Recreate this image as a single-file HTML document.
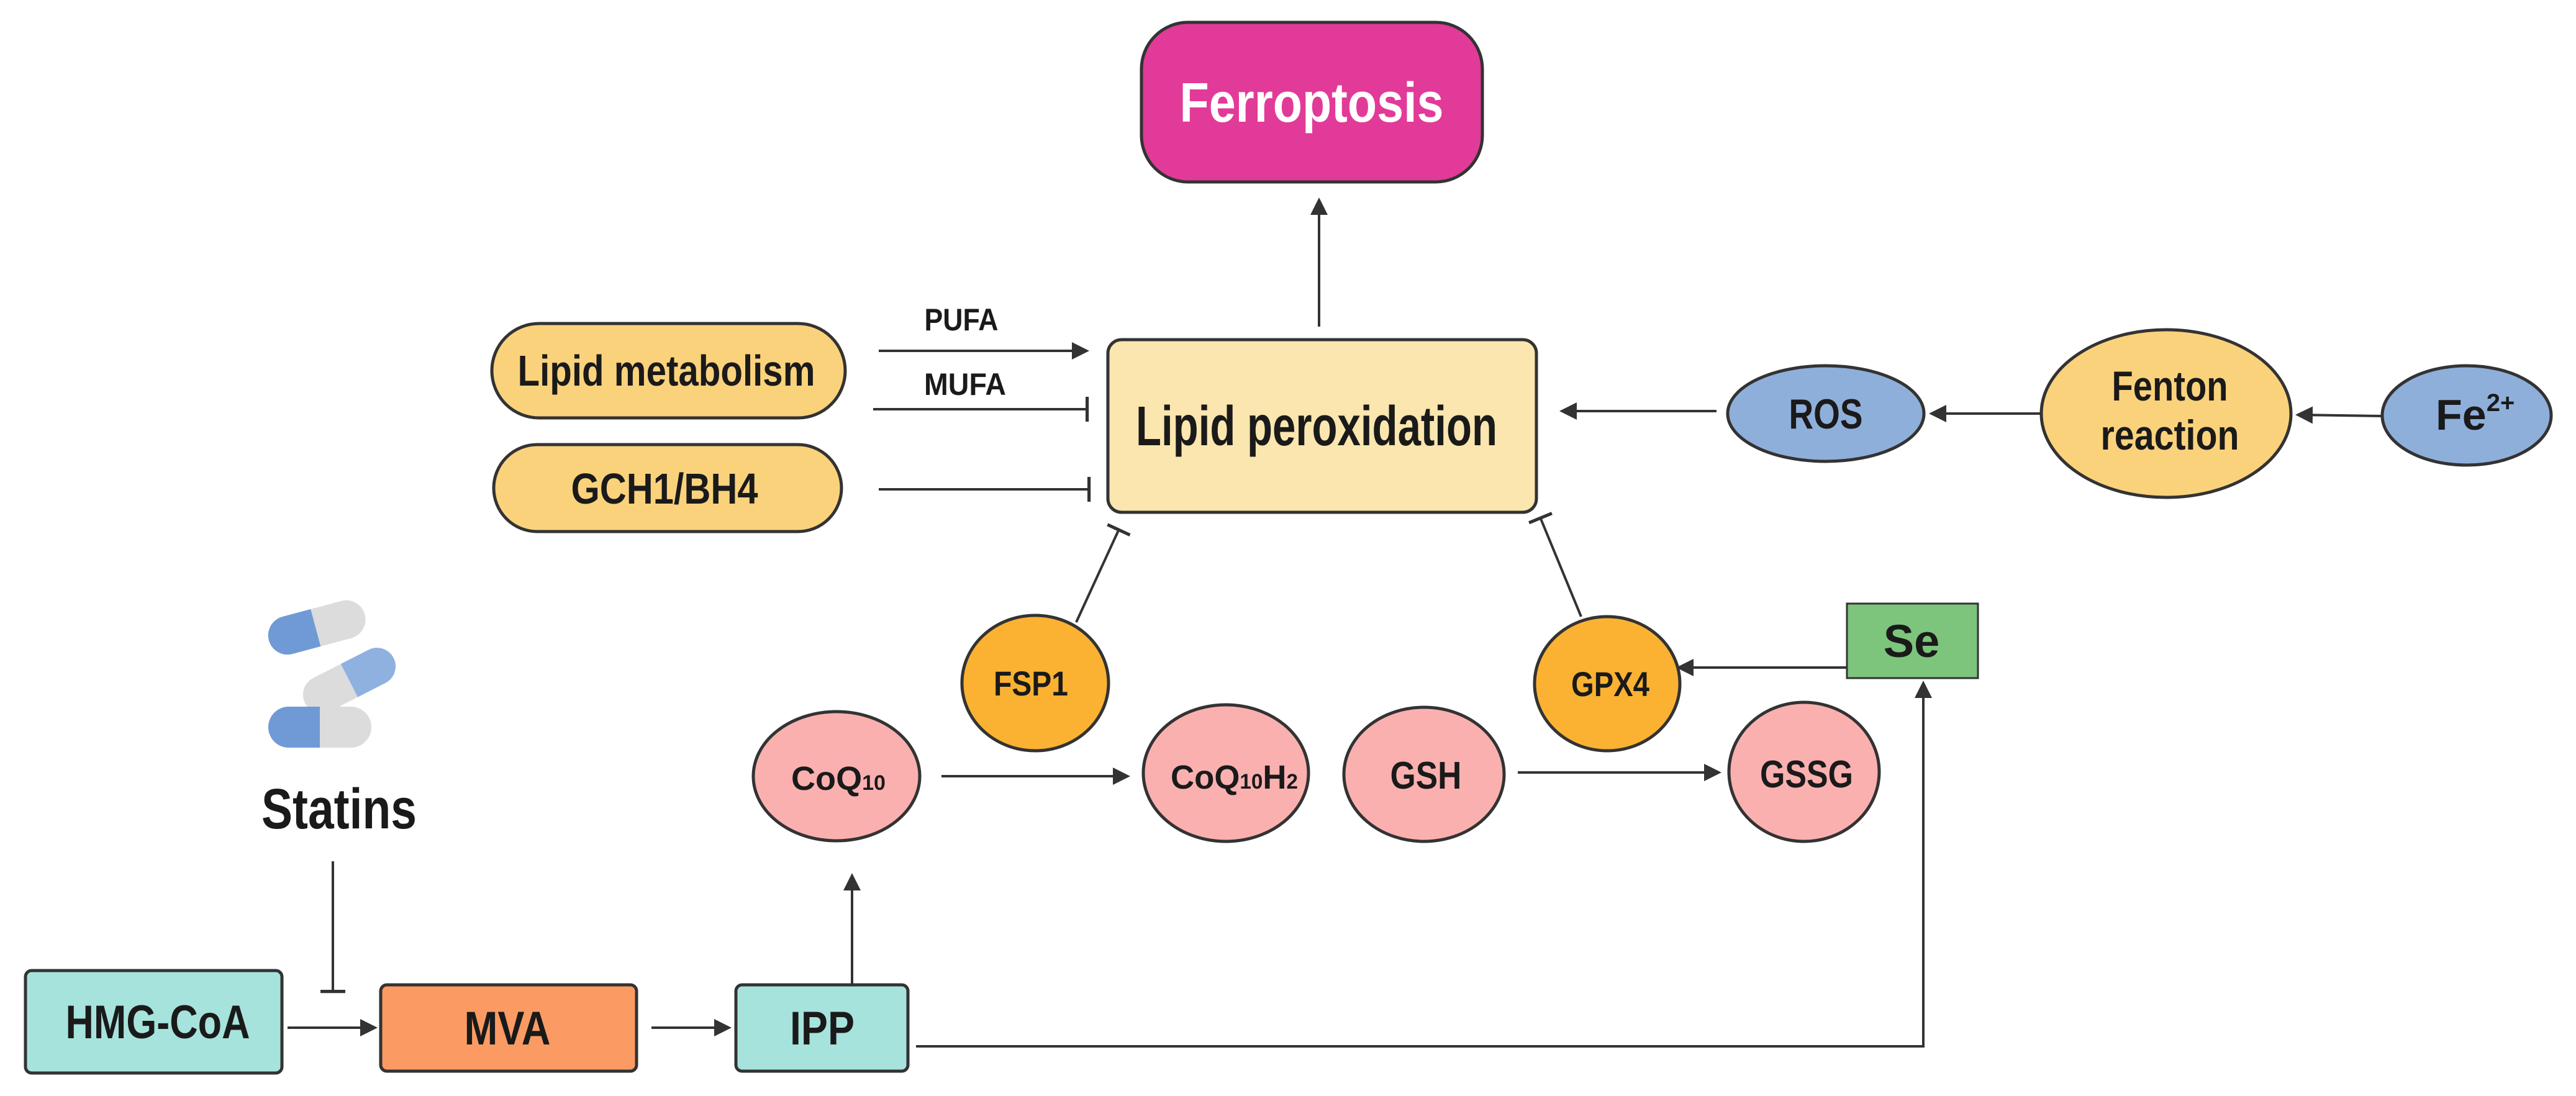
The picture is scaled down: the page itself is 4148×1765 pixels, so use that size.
<!DOCTYPE html>
<html><head><meta charset="utf-8"><style>
html,body{margin:0;padding:0;background:#fff}
svg{display:block}
text{font-family:"Liberation Sans",sans-serif;font-weight:bold;fill:#1a1a1a}
</style></head><body>
<svg width="4148" height="1765" viewBox="0 0 4148 1765" xmlns="http://www.w3.org/2000/svg">
<defs>
<marker id="ar" markerWidth="7" markerHeight="7" refX="6" refY="3.5" orient="auto" markerUnits="strokeWidth"><path d="M0,0 L7,3.5 L0,7 Z" fill="#333"/></marker>
<marker id="tb" markerWidth="2" markerHeight="10" refX="1" refY="5" orient="auto" markerUnits="strokeWidth"><rect x="0" y="0" width="1.3" height="10" fill="#333"/></marker>
</defs>
<g stroke="#333" stroke-width="5">
<rect x="1838" y="36" width="549" height="257" rx="75" fill="#e23a98"/>
<rect x="792" y="521" width="569" height="152" rx="76" fill="#fbd27c"/>
<rect x="795" y="716" width="560" height="140" rx="70" fill="#fbd27c"/>
<rect x="1784" y="547" width="690" height="278" rx="22" fill="#fae6ae"/>
<ellipse cx="2940" cy="666" rx="158" ry="77" fill="#8fafdb"/>
<ellipse cx="3488" cy="666" rx="201" ry="135" fill="#fbd27c"/>
<ellipse cx="3972" cy="669" rx="136" ry="80" fill="#8fafdb"/>
<ellipse cx="1667" cy="1100" rx="118" ry="109" fill="#fbb232"/>
<ellipse cx="2588" cy="1101" rx="117" ry="108" fill="#fbb232"/>
<rect x="2974" y="972" width="211" height="120" fill="#7dc47d" stroke-width="3"/>
<ellipse cx="1347" cy="1250" rx="134" ry="104" fill="#fbb0b0"/>
<ellipse cx="1974" cy="1245" rx="133" ry="110" fill="#fbb0b0"/>
<ellipse cx="2293" cy="1247" rx="129" ry="108" fill="#fbb0b0"/>
<ellipse cx="2905" cy="1243" rx="121" ry="112" fill="#fbb0b0"/>
<rect x="41" y="1563" width="413" height="165" rx="10" fill="#a6e3dc"/>
<rect x="613" y="1586" width="412" height="139" rx="10" fill="#fb9b63"/>
<rect x="1185" y="1586" width="277" height="139" rx="10" fill="#a6e3dc"/>
</g>
<g stroke="#333" stroke-width="4" fill="none">
<line x1="2124" y1="526" x2="2124" y2="322" marker-end="url(#ar)"/>
<line x1="1415" y1="565" x2="1750" y2="565" marker-end="url(#ar)"/>
<line x1="1406" y1="659" x2="1752" y2="659" marker-end="url(#tb)"/>
<line x1="1415" y1="788" x2="1755" y2="788" marker-end="url(#tb)"/>
<line x1="2764" y1="662" x2="2515" y2="662" marker-end="url(#ar)"/>
<line x1="3287" y1="666" x2="3110" y2="666" marker-end="url(#ar)"/>
<line x1="3836" y1="670" x2="3700" y2="668" marker-end="url(#ar)"/>
<line x1="1733" y1="1002" x2="1802" y2="852" marker-end="url(#tb)"/>
<line x1="2546" y1="993" x2="2480" y2="833" marker-end="url(#tb)"/>
<line x1="2973" y1="1075" x2="2703" y2="1075" marker-end="url(#ar)"/>
<line x1="1516" y1="1250" x2="1816" y2="1250" marker-end="url(#ar)"/>
<line x1="2444" y1="1244" x2="2768" y2="1244" marker-end="url(#ar)"/>
<line x1="536" y1="1387" x2="536" y2="1598" marker-end="url(#tb)"/>
<line x1="463" y1="1655" x2="604" y2="1655" marker-end="url(#ar)"/>
<line x1="1049" y1="1655" x2="1174" y2="1655" marker-end="url(#ar)"/>
<line x1="1372" y1="1585" x2="1372" y2="1410" marker-end="url(#ar)"/>
<polyline points="1475,1685 3097,1685 3097,1100" marker-end="url(#ar)"/>
</g>
<g>
<g transform="rotate(-15 508 1010)"><rect x="430" y="980" width="160" height="62" rx="31" fill="#dcdcdc"/><path d="M461,980 H508 V1042 H461 A31,31 0 0 1 461,980 Z" fill="#6f9ad6"/></g>
<g transform="rotate(-27 562 1095)"><rect x="482" y="1066" width="160" height="60" rx="30" fill="#dcdcdc"/><path d="M562,1066 H612 A30,30 0 0 1 612,1126 H562 Z" fill="#8fb1e0"/></g>
<rect x="432" y="1138" width="166" height="66" rx="33" fill="#dcdcdc"/><path d="M465,1138 H515 V1204 H465 A33,33 0 0 1 465,1138 Z" fill="#6f9ad6"/>
</g>
<text x="2112" y="196" font-size="90" text-anchor="middle" style="fill:#fff" textLength="425" lengthAdjust="spacingAndGlyphs">Ferroptosis</text>
<text x="1073" y="621" font-size="70" text-anchor="middle" textLength="479" lengthAdjust="spacingAndGlyphs">Lipid metabolism</text>
<text x="1070" y="811" font-size="70" text-anchor="middle" textLength="301" lengthAdjust="spacingAndGlyphs">GCH1/BH4</text>
<text x="1548" y="532" font-size="50" text-anchor="middle" textLength="119" lengthAdjust="spacingAndGlyphs">PUFA</text>
<text x="1554" y="636" font-size="50" text-anchor="middle" textLength="132" lengthAdjust="spacingAndGlyphs">MUFA</text>
<text x="2120" y="717" font-size="90" text-anchor="middle" textLength="582" lengthAdjust="spacingAndGlyphs">Lipid peroxidation</text>
<text x="2940" y="690" font-size="68" text-anchor="middle" textLength="119" lengthAdjust="spacingAndGlyphs">ROS</text>
<text x="3494" y="645" font-size="68" text-anchor="middle" textLength="187" lengthAdjust="spacingAndGlyphs">Fenton</text>
<text x="3494" y="724" font-size="68" text-anchor="middle" textLength="223" lengthAdjust="spacingAndGlyphs">reaction</text>
<text x="3922" y="692" font-size="70">Fe<tspan font-size="40" dy="-30">2+</tspan></text>
<text x="1660" y="1120" font-size="56" text-anchor="middle" textLength="120" lengthAdjust="spacingAndGlyphs">FSP1</text>
<text x="2593" y="1121" font-size="56" text-anchor="middle" textLength="126" lengthAdjust="spacingAndGlyphs">GPX4</text>
<text x="3078" y="1058" font-size="74" text-anchor="middle">Se</text>
<text x="1274" y="1272" font-size="54" textLength="152" lengthAdjust="spacingAndGlyphs">CoQ<tspan font-size="34">10</tspan></text>
<text x="1885" y="1270" font-size="54" textLength="205" lengthAdjust="spacingAndGlyphs">CoQ<tspan font-size="34">10</tspan>H<tspan font-size="34">2</tspan></text>
<text x="2296" y="1270" font-size="62" text-anchor="middle" textLength="115" lengthAdjust="spacingAndGlyphs">GSH</text>
<text x="2909" y="1268" font-size="62" text-anchor="middle" textLength="150" lengthAdjust="spacingAndGlyphs">GSSG</text>
<text x="546" y="1334" font-size="92" text-anchor="middle" textLength="250" lengthAdjust="spacingAndGlyphs">Statins</text>
<text x="254" y="1672" font-size="76" text-anchor="middle" textLength="297" lengthAdjust="spacingAndGlyphs">HMG-CoA</text>
<text x="817" y="1682" font-size="76" text-anchor="middle" textLength="139" lengthAdjust="spacingAndGlyphs">MVA</text>
<text x="1324" y="1682" font-size="76" text-anchor="middle" textLength="104" lengthAdjust="spacingAndGlyphs">IPP</text>
</svg>
</body></html>
